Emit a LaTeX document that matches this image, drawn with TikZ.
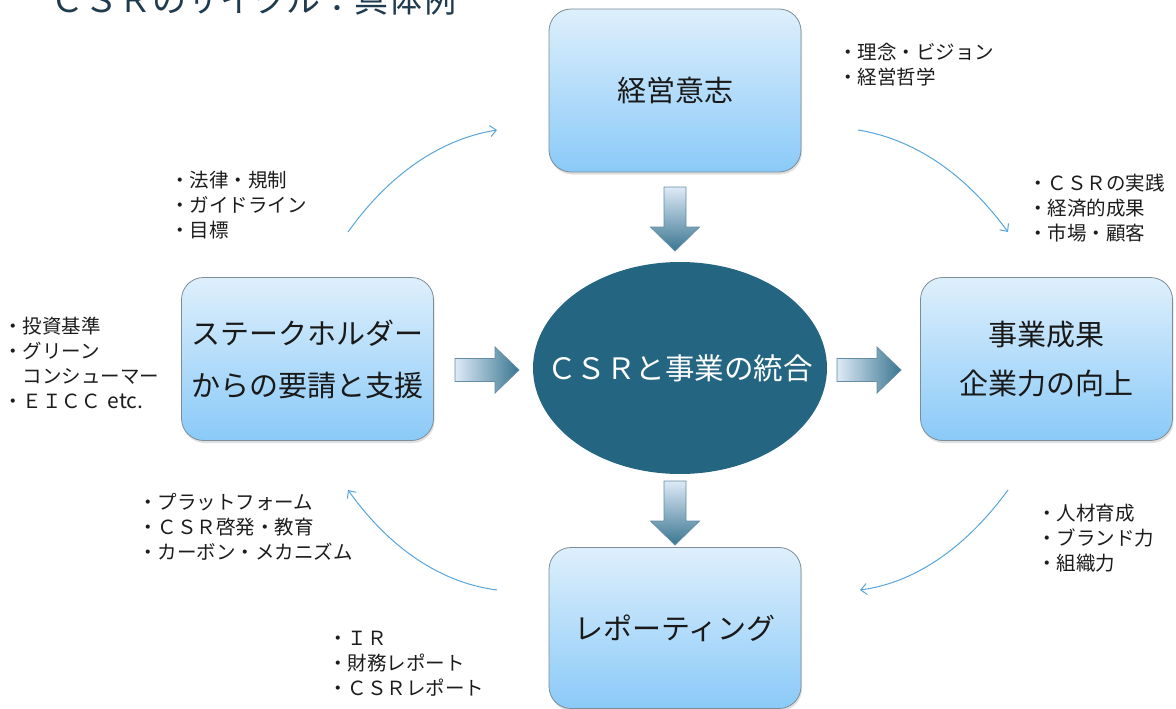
\documentclass[tikz,border=0pt]{standalone}
\usepackage{fontspec}
\setmainfont{Noto Sans CJK JP}
\usetikzlibrary{shapes.geometric,arrows.meta,shadows}
\definecolor{boxtop}{RGB}{222,239,252}
\definecolor{boxbot}{RGB}{138,202,248}
\definecolor{boxline}{RGB}{125,140,150}
\definecolor{ctr}{RGB}{36,101,130}
\definecolor{arrL}{RGB}{222,234,247}
\definecolor{arrD}{RGB}{58,118,145}
\definecolor{arrB}{RGB}{100,140,162}
\definecolor{cycC}{RGB}{88,165,220}
\definecolor{lblc}{RGB}{28,28,28}
\definecolor{titleC}{RGB}{32,58,78}
\tikzset{
  box/.style={rectangle, rounded corners=22pt, minimum width=252pt, minimum height=163pt,
    inner sep=0pt, align=center, top color=boxtop, bottom color=boxbot, draw=boxline,
    line width=0.8pt, text=black!90, font=\fontsize{29}{52}\selectfont,
    drop shadow={shadow xshift=1pt, shadow yshift=-2.5pt, opacity=0.25}},
  lbl/.style={anchor=base west, inner sep=0pt, align=left,
    font=\fontsize{19.5}{25}\selectfont, text=lblc},
  cyc/.style={draw=cycC, line width=1pt, -{Straight Barb[length=6pt,width=11pt]}},
  rarrow/.pic={\shadedraw[left color=arrL, right color=arrD, draw=arrB, line width=0.8pt]
    (0,-11.5) -- (40,-11.5) -- (40,-23) -- (64,0) -- (40,23) -- (40,11.5) -- (0,11.5) -- cycle;},
  darrow/.pic={\shadedraw[top color=arrL, bottom color=arrD, draw=arrB, line width=0.8pt]
    (-11,0) -- (11,0) -- (11,40) -- (24.5,40) -- (0,64) -- (-24.5,40) -- (-11,40) -- cycle;},
}
\begin{document}
\begin{tikzpicture}[x=1pt,y=-1pt]
\useasboundingbox (0,0) rectangle (1176,709);

% title (cut off at top)
\node[anchor=base west, inner sep=0pt, text=titleC, font=\fontsize{34}{40}\selectfont]
  (title) at (50,13) {ＣＳＲのサイクル：具体例};

% boxes
\node[box] (top) at (675,90.5) {経営意志};
\node[box] (left) at (307.5,359) {ステークホルダー\\からの要請と支援};
\node[box, font=\fontsize{29}{49}\selectfont] (right) at (1046.5,359) {事業成果\\企業力の向上};
\node[box, minimum height=161pt] (bottom) at (675,628) {レポーティング};

% centre ellipse
\node[ellipse, minimum width=294pt, minimum height=212pt, fill=ctr, inner sep=0pt] (c) at (680,368) {};
\node[text=white, inner sep=0pt, font=\fontsize{29.5}{34}\selectfont] (ctext) at (c.center) {ＣＳＲと事業の統合};

% block arrows
\pic at (675,187) {darrow};
\pic at (675,481) {darrow};
\pic at (455,370) {rarrow};
\pic at (837,370) {rarrow};

% cycle arrows
\coordinate (a1s) at (348,232); \coordinate (a1e) at (497,130);
\coordinate (a2s) at (858,130); \coordinate (a2e) at (1008,232);
\coordinate (a3s) at (1008,490); \coordinate (a3e) at (860,590);
\coordinate (a4s) at (497,590); \coordinate (a4e) at (348,490);
\draw[cyc] (a1s) .. controls (385,180) and (435,140) .. (a1e);
\draw[cyc] (a2s) .. controls (920,140) and (970,180) .. (a2e);
\draw[cyc] (a3s) .. controls (970,542) and (920,582) .. (a3e);
\draw[cyc] (a4s) .. controls (435,582) and (385,542) .. (a4e);

% labels (base anchor = baseline of last line)
\node[lbl] (l1) at (838,84.5) {・理念・ビジョン\\・経営哲学};
\node[lbl] (l2) at (170,237.5) {・法律・規制\\・ガイドライン\\・目標};
\node[lbl] (l3) at (1028,240.5) {・ＣＳＲの実践\\・経済的成果\\・市場・顧客};
\node[lbl] (l4) at (3,408.5) {・投資基準\\・グリーン\\　コンシューマー\\・ＥＩＣＣ\hspace{7pt}{\fontsize{21}{25}\selectfont etc.}};
\node[lbl] (l5) at (138,559.5) {・プラットフォーム\\・ＣＳＲ啓発・教育\\・カーボン・メカニズム};
\node[lbl] (l6) at (1037,570.5) {・人材育成\\・ブランド力\\・組織力};
\node[lbl] (l7) at (328,695.5) {・ＩＲ\\・財務レポート\\・ＣＳＲレポート};
\end{tikzpicture}
\end{document}
